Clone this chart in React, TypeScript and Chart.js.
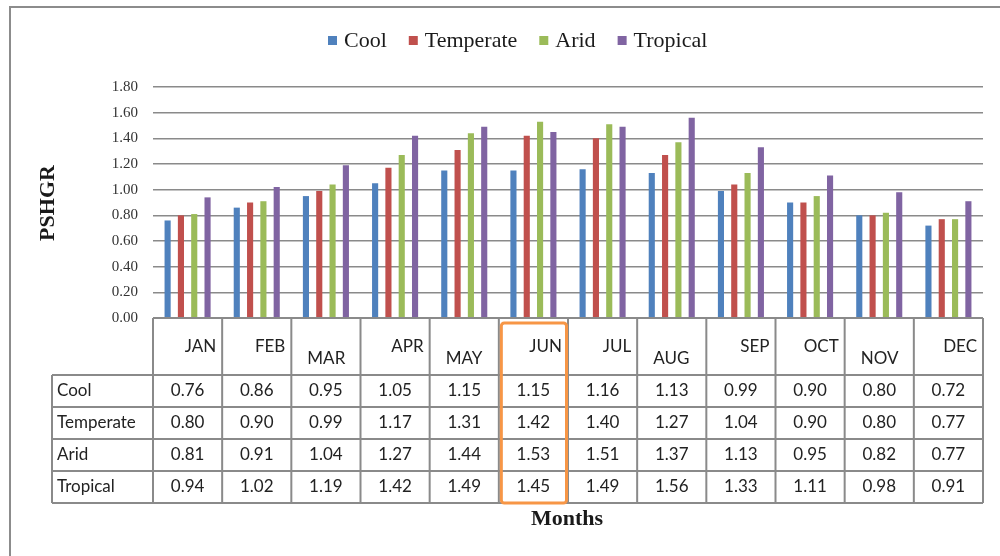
import React, { useEffect, useRef } from 'react';
import { Chart, registerables } from 'chart.js';

Chart.register(...registerables);

const MONTHS = ['JAN', 'FEB', 'MAR', 'APR', 'MAY', 'JUN', 'JUL', 'AUG', 'SEP', 'OCT', 'NOV', 'DEC'];
const COOL = [0.76, 0.86, 0.95, 1.05, 1.15, 1.15, 1.16, 1.13, 0.99, 0.9, 0.8, 0.72];
const TEMPERATE = [0.8, 0.9, 0.99, 1.17, 1.31, 1.42, 1.4, 1.27, 1.04, 0.9, 0.8, 0.77];
const ARID = [0.81, 0.91, 1.04, 1.27, 1.44, 1.53, 1.51, 1.37, 1.13, 0.95, 0.82, 0.77];
const TROPICAL = [0.94, 1.02, 1.19, 1.42, 1.49, 1.45, 1.49, 1.56, 1.33, 1.11, 0.98, 0.91];
const SERIES_NAMES = ['Cool', 'Temperate', 'Arid', 'Tropical'];
const SERIES_COLORS = ['#4F81BD', '#C0504D', '#9BBB59', '#8064A2'];
const Y_MIN = 0;
const Y_MAX = 1.8;
const Y_STEP = 0.2;
const LOWERED_MONTHS = ['MAR', 'MAY', 'AUG', 'NOV'];
const HIGHLIGHT_MONTH = 'JUN';
const Y_TITLE = 'PSHGR';
const X_TITLE = 'Months';

const SERIF = '"Liberation Serif", "Times New Roman", serif';
const SANS = 'Lato, "Open Sans", sans-serif';
const LINE = '#8a8a8a';

const decorPlugin = {
  id: 'decor',
  afterDraw(chart: any) {
    const ctx: CanvasRenderingContext2D = chart.ctx;
    const xs = chart.scales.x;
    const area = chart.chartArea;
    const datasets = chart.data.datasets;
    ctx.save();

    // outer frame
    ctx.strokeStyle = '#8c8c8c';
    ctx.lineWidth = 2;
    ctx.strokeRect(10, 7, 1000, 560);

    // legend
    ctx.font = `22px ${SERIF}`;
    ctx.textBaseline = 'middle';
    ctx.textAlign = 'left';
    let lx = 328;
    datasets.forEach((ds: any) => {
      ctx.fillStyle = ds.backgroundColor;
      ctx.fillRect(lx, 36, 9, 9);
      ctx.fillStyle = '#1a1a1a';
      ctx.fillText(ds.label, lx + 16, 41);
      lx += 16 + ctx.measureText(ds.label).width + 22;
    });

    // y title
    ctx.save();
    ctx.translate(48, 203);
    ctx.rotate(-Math.PI / 2);
    ctx.font = `bold 22px ${SERIF}`;
    ctx.textAlign = 'center';
    ctx.fillStyle = '#1a1a1a';
    ctx.fillText(Y_TITLE, 0, 0);
    ctx.restore();

    // data table
    const n = chart.data.labels.length;
    const colW = xs.width / n;
    const top = area.bottom;
    const headerH = 57;
    const rowH = 32;
    const labelLeft = 52;
    const headerBottom = top + headerH;
    const tableBottom = headerBottom + rowH * datasets.length;
    const right = xs.getPixelForValue(n - 1) + colW / 2;

    ctx.strokeStyle = LINE;
    ctx.lineWidth = 2;
    ctx.beginPath();
    ctx.moveTo(area.left, top);
    ctx.lineTo(right, top);
    for (let r = 0; r <= datasets.length; r++) {
      const y = headerBottom + r * rowH;
      ctx.moveTo(labelLeft, y);
      ctx.lineTo(right, y);
    }
    for (let i = 0; i <= n; i++) {
      const x = xs.getPixelForValue(0) - colW / 2 + i * colW;
      ctx.moveTo(x, top);
      ctx.lineTo(x, tableBottom);
    }
    ctx.moveTo(labelLeft, headerBottom);
    ctx.lineTo(labelLeft, tableBottom);
    ctx.stroke();

    ctx.font = `17px ${SANS}`;
    ctx.fillStyle = '#222';
    ctx.textBaseline = 'middle';
    chart.data.labels.forEach((m: string, i: number) => {
      const cx = xs.getPixelForValue(i);
      const l = cx - colW / 2;
      const r = cx + colW / 2;
      if (LOWERED_MONTHS.includes(m)) {
        ctx.textAlign = 'left';
        ctx.fillText(m, l + 16, top + 41);
      } else {
        ctx.textAlign = 'right';
        ctx.fillText(m, r - 6, top + 29);
      }
    });

    datasets.forEach((ds: any, r: number) => {
      const cy = headerBottom + r * rowH + rowH / 2;
      ctx.textAlign = 'left';
      ctx.fillText(ds.label, labelLeft + 5, cy);
      ctx.textAlign = 'center';
      ds.data.forEach((v: number, i: number) => {
        ctx.fillText(v.toFixed(2), xs.getPixelForValue(i), cy);
      });
    });

    // highlight
    const hi = chart.data.labels.indexOf(HIGHLIGHT_MONTH);
    if (hi >= 0) {
      const hx = xs.getPixelForValue(hi);
      ctx.strokeStyle = '#F79646';
      ctx.lineWidth = 3;
      ctx.beginPath();
      (ctx as any).roundRect(hx - colW / 2 + 2.5, top + 5, colW - 4, tableBottom - top - 5, 3);
      ctx.stroke();
    }

    // x title
    ctx.font = `bold 22px ${SERIF}`;
    ctx.textAlign = 'center';
    ctx.fillStyle = '#1a1a1a';
    ctx.fillText(X_TITLE, 567, 519);

    ctx.restore();
  },
};

export default function App() {
  const ref = useRef<HTMLCanvasElement>(null);

  useEffect(() => {
    document.body.style.margin = '0';
    const seriesValues = [COOL, TEMPERATE, ARID, TROPICAL];
    const chart = new Chart(ref.current as HTMLCanvasElement, {
      type: 'bar',
      data: {
        labels: MONTHS,
        datasets: SERIES_NAMES.map((name, i) => ({
          label: name,
          data: seriesValues[i],
          backgroundColor: SERIES_COLORS[i],
          borderWidth: 0,
          categoryPercentage: 0.77,
          barPercentage: 0.46,
        })),
      },
      options: {
        responsive: false,
        animation: false,
        devicePixelRatio: 1,
        layout: { padding: { left: 0, top: 87, right: 17, bottom: 238 } },
        plugins: {
          legend: { display: false },
          tooltip: { enabled: false },
        },
        scales: {
          x: {
            grid: { display: false },
            border: { display: false },
            ticks: { display: false },
            afterFit: (s: any) => {
              s.height = 0;
            },
          },
          y: {
            min: Y_MIN,
            max: Y_MAX,
            border: { display: false },
            grid: { color: LINE, lineWidth: 1.5, drawTicks: false },
            ticks: {
              stepSize: Y_STEP,
              padding: 15,
              color: '#333',
              font: { family: SERIF, size: 15 },
              callback: (v: any) => Number(v).toFixed(2),
            },
            afterFit: (s: any) => {
              s.width = 153;
            },
          },
        },
      },
      plugins: [decorPlugin],
    });
    return () => chart.destroy();
  }, []);

  return <canvas ref={ref} width={1000} height={556} style={{ display: 'block' }} />;
}
